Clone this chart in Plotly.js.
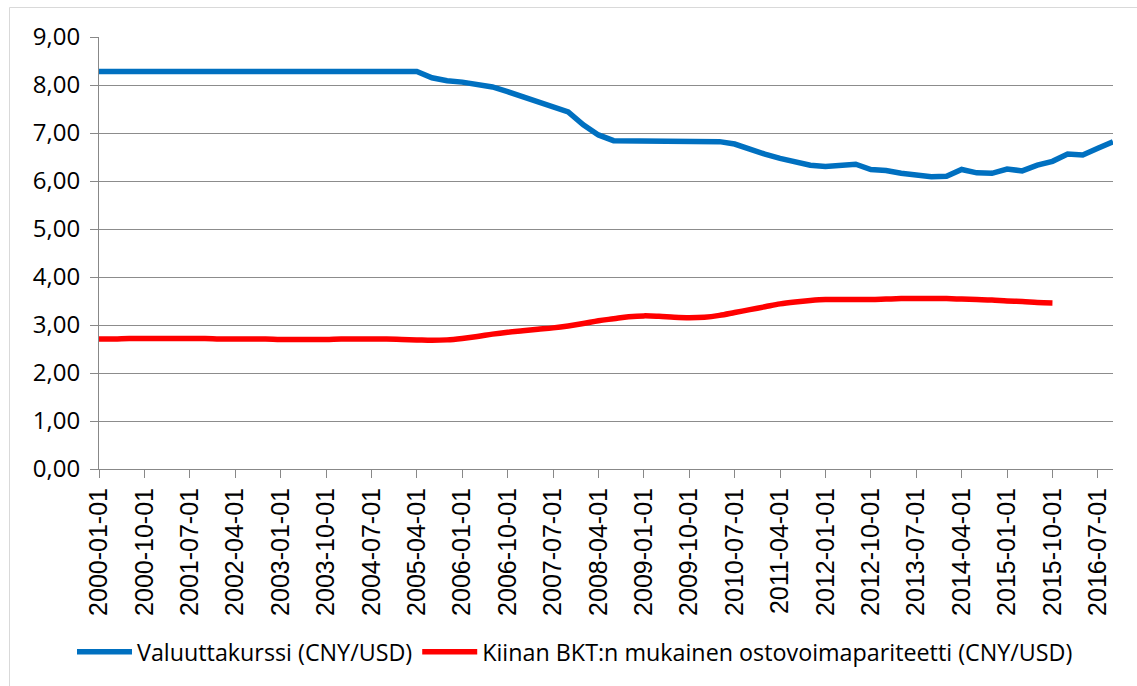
<!DOCTYPE html>
<html>
<head>
<meta charset="utf-8">
<script src="https://cdn.plot.ly/plotly-3.0.1.min.js"></script>
<style>
  html, body { margin: 0; padding: 0; background: #ffffff; }
  #chart { width: 1137px; height: 686px; }
</style>
</head>
<body>
<div id="chart"></div>
<script>
// Quarterly categories 2000-01-01 ... 2016-10-01
const quarters = [
  "2000-01-01","2000-04-01","2000-07-01","2000-10-01",
  "2001-01-01","2001-04-01","2001-07-01","2001-10-01",
  "2002-01-01","2002-04-01","2002-07-01","2002-10-01",
  "2003-01-01","2003-04-01","2003-07-01","2003-10-01",
  "2004-01-01","2004-04-01","2004-07-01","2004-10-01",
  "2005-01-01","2005-04-01","2005-07-01","2005-10-01",
  "2006-01-01","2006-04-01","2006-07-01","2006-10-01",
  "2007-01-01","2007-04-01","2007-07-01","2007-10-01",
  "2008-01-01","2008-04-01","2008-07-01","2008-10-01",
  "2009-01-01","2009-04-01","2009-07-01","2009-10-01",
  "2010-01-01","2010-04-01","2010-07-01","2010-10-01",
  "2011-01-01","2011-04-01","2011-07-01","2011-10-01",
  "2012-01-01","2012-04-01","2012-07-01","2012-10-01",
  "2013-01-01","2013-04-01","2013-07-01","2013-10-01",
  "2014-01-01","2014-04-01","2014-07-01","2014-10-01",
  "2015-01-01","2015-04-01","2015-07-01","2015-10-01",
  "2016-01-01","2016-04-01","2016-07-01","2016-10-01"
];

// Exchange rate CNY/USD
const exchangeRate = [
  8.28,8.28,8.28,8.28, 8.28,8.28,8.28,8.28, 8.28,8.28,8.28,8.28,
  8.28,8.28,8.28,8.28, 8.28,8.28,8.28,8.28, 8.28,8.28,8.15,8.09,
  8.06,8.01,7.96,7.86, 7.76,7.67,7.56,7.44, 7.17,6.96,6.84,6.84,
  6.83,6.83,6.83,6.83, 6.83,6.82,6.77,6.65, 6.56,6.47,6.39,6.33,
  6.30,6.33,6.35,6.24, 6.22,6.16,6.13,6.09, 6.10,6.24,6.17,6.16,
  6.25,6.21,6.33,6.41, 6.56,6.54,6.68,6.82
];

// PPP (GDP based) CNY/USD, up to 2015-10-01
const pppRate = [
  2.71,2.71,2.72,2.72, 2.72,2.72,2.72,2.72, 2.71,2.71,2.71,2.71,
  2.70,2.70,2.70,2.70, 2.71,2.71,2.71,2.71, 2.70,2.69,2.68,2.69,
  2.72,2.76,2.81,2.85, 2.88,2.91,2.94,2.98, 3.03,3.09,3.13,3.17,
  3.19,3.18,3.16,3.15, 3.16,3.20,3.26,3.32, 3.38,3.44,3.48,3.51,
  3.53,3.53,3.53,3.53, 3.54,3.55,3.55,3.55, 3.55,3.54,3.53,3.52,
  3.50,3.49,3.47,3.46
];

const seriesNames = [
  "Valuuttakurssi (CNY/USD)",
  "Kiinan BKT:n mukainen ostovoimapariteetti (CNY/USD)"
];

const tickLabels = quarters.filter((q, i) => i % 3 === 0);

const W = 1137, H = 686;
const mL = 99, mR = 24, mT = 37, mB = 217;
const pw = W - mL - mR, ph = H - mT - mB;
const px = x => (x - mL) / pw;
const py = y => (H - mB - y) / ph;

const traces = [
  {
    x: quarters,
    y: exchangeRate,
    type: "scatter",
    mode: "lines",
    name: seriesNames[0],
    line: { color: "#0070C0", width: 5.5 },
    hoverinfo: "skip"
  },
  {
    x: quarters.slice(0, pppRate.length),
    y: pppRate,
    type: "scatter",
    mode: "lines",
    name: seriesNames[1],
    line: { color: "#FF0000", width: 5.5, shape: "spline", smoothing: 1 },
    hoverinfo: "skip"
  }
];

const layout = {
  width: W,
  height: H,
  margin: { l: mL, r: mR, t: mT, b: mB, pad: 0 },
  paper_bgcolor: "#ffffff",
  plot_bgcolor: "#ffffff",
  separators: ", ",
  showlegend: true,
  xaxis: {
    type: "category",
    range: [0, quarters.length - 1],
    tickmode: "array",
    tickvals: tickLabels,
    ticktext: tickLabels,
    tickangle: -90,
    ticks: "outside",
    ticklen: 8,
    tickwidth: 1,
    tickcolor: "#888888",
    showline: true,
    linecolor: "#888888",
    linewidth: 1,
    showgrid: false,
    zeroline: false,
    fixedrange: true,
    tickfont: { family: "Liberation Sans, Arial, sans-serif", size: 25, color: "#000000" }
  },
  yaxis: {
    range: [0, 9],
    dtick: 1,
    tick0: 0,
    tickformat: ".2f",
    ticks: "outside",
    ticklen: 8,
    tickwidth: 1,
    tickcolor: "#888888",
    showline: true,
    linecolor: "#888888",
    linewidth: 1,
    showgrid: true,
    gridcolor: "#8c8c8c",
    gridwidth: 1,
    zeroline: false,
    fixedrange: true,
    ticklabelstandoff: 5,
    tickfont: { family: "Open Sans, sans-serif", size: 24, color: "#000000" }
  },
  legend: {
    orientation: "h",
    x: px(575),
    xanchor: "center",
    y: py(652),
    yanchor: "middle",
    font: { family: "Open Sans, sans-serif", size: 23.3, color: "#000000" },
    bgcolor: "rgba(0,0,0,0)",
    itemwidth: 55,
    tracegroupgap: 0
  },
  shapes: [
    { type: "line", xref: "paper", yref: "paper",
      x0: px(9.5), x1: px(1140), y0: py(7.5), y1: py(7.5),
      line: { color: "#d9d9d9", width: 1 } },
    { type: "line", xref: "paper", yref: "paper",
      x0: px(9.5), x1: px(9.5), y0: py(7.5), y1: py(690),
      line: { color: "#d9d9d9", width: 1 } }
  ]
};

Plotly.newPlot("chart", traces, layout, { displayModeBar: false, staticPlot: true });
</script>
</body>
</html>
